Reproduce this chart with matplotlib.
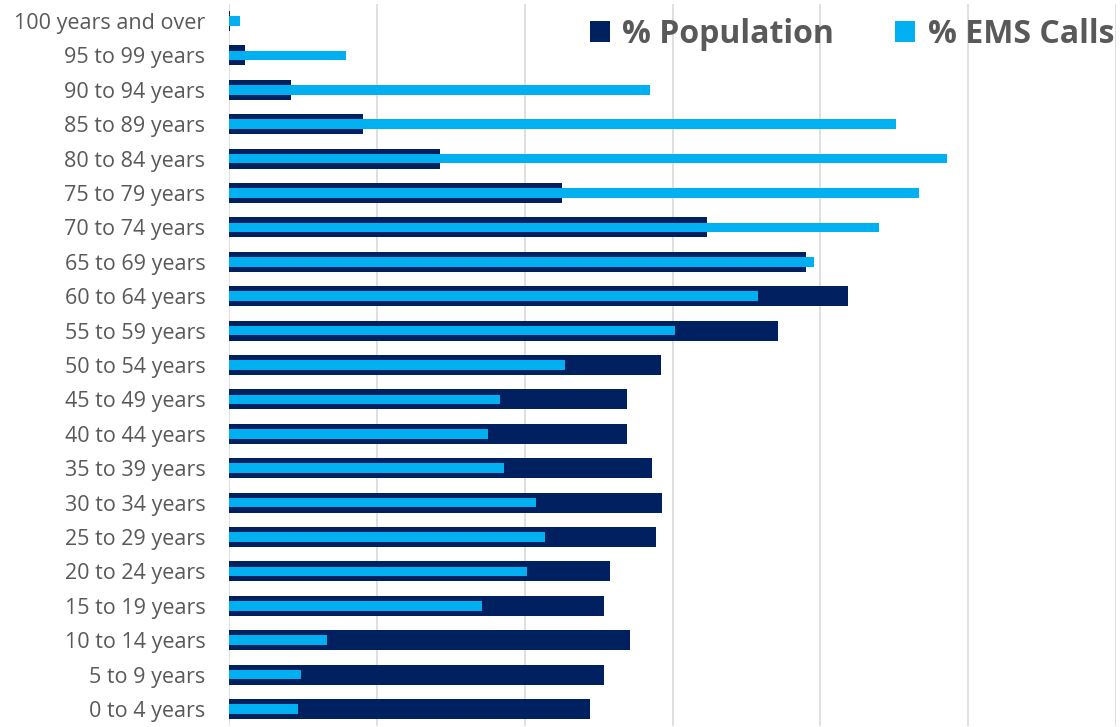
import matplotlib
matplotlib.use("Agg")
import matplotlib.pyplot as plt
import numpy as np

categories = ["0 to 4 years", "5 to 9 years", "10 to 14 years", "15 to 19 years",
              "20 to 24 years", "25 to 29 years", "30 to 34 years", "35 to 39 years",
              "40 to 44 years", "45 to 49 years", "50 to 54 years", "55 to 59 years",
              "60 to 64 years", "65 to 69 years", "70 to 74 years", "75 to 79 years",
              "80 to 84 years", "85 to 89 years", "90 to 94 years", "95 to 99 years",
              "100 years and over"]
pct_population = [4.88, 5.07, 5.42, 5.08, 5.15, 5.78, 5.86, 5.72, 5.39, 5.39, 5.85,
                  7.43, 8.38, 7.81, 6.46, 4.51, 2.85, 1.81, 0.84, 0.22, 0.02]
pct_ems = [0.93, 0.97, 1.32, 3.42, 4.03, 4.27, 4.16, 3.72, 3.50, 3.66, 4.55,
           6.03, 7.16, 7.92, 8.80, 9.34, 9.72, 9.03, 5.70, 1.58, 0.15]

plt.rcParams['font.family'] = ['Open Sans', 'DejaVu Sans']

fig = plt.figure(figsize=(11.2, 7.27), dpi=100)
ax = fig.add_axes([229/1120, 1 - 726.2/727, (1116-229)/1120, (726.2-3.8)/727])

y = np.arange(len(categories))
ax.barh(y, pct_population, height=0.58, color='#002060', label='% Population', zorder=2)
ax.barh(y, pct_ems, height=0.28, color='#00B0F0', label='% EMS Calls', zorder=3)

ax.set_xlim(0, 12)
ax.set_ylim(-0.5, len(categories) - 0.5)
ax.set_xticks([0, 2, 4, 6, 8, 10, 12])
ax.set_xticklabels([])
ax.tick_params(axis='x', length=0)
ax.grid(axis='x', color='#d9d9d9', linewidth=1.2, zorder=0)
ax.set_axisbelow(True)
ax.set_yticks(y)
ax.set_yticklabels(categories, fontsize=15.5, color='#595959')
ax.tick_params(axis='y', length=0, pad=17)
for s in ax.spines.values():
    s.set_visible(False)

leg = fig.legend(handles=ax.containers, labels=['% Population', '% EMS Calls'],
                 loc='upper right', bbox_to_anchor=(1114/1120, (727-18)/727), ncol=2,
                 frameon=False, prop={'size': 23, 'weight': 'bold'}, labelcolor='#595959',
                 handlelength=0.62, handleheight=0.62, handletextpad=0.4,
                 columnspacing=1.9, borderaxespad=0.0, borderpad=0.0)

fig.savefig("out.png", dpi=100)
